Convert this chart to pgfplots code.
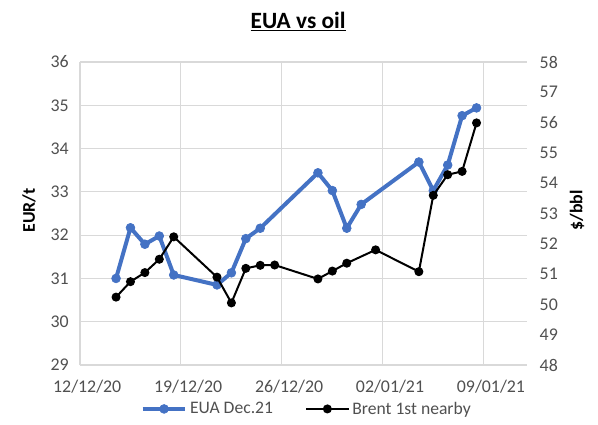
\documentclass[border=0pt]{standalone}
\usepackage{pgfplots}
\pgfplotsset{compat=1.18}
\usepackage{fontspec}
\setmainfont{Carlito}
\definecolor{euablue}{RGB}{68,114,196}
\definecolor{gridgray}{RGB}{217,217,217}
\definecolor{ticktxt}{RGB}{80,80,80}
\pgfplotstableread{
x y
2.5 31.00
3.5 32.17
4.5 31.79
5.5 31.98
6.5 31.08
9.5 30.85
10.5 31.13
11.5 31.92
12.5 32.16
16.5 33.44
17.5 33.03
18.5 32.16
19.5 32.71
23.5 33.69
24.5 33.03
25.5 33.62
26.5 34.76
27.5 34.94
}\euadata
\pgfplotstableread{
x y
2.5 50.24
3.5 50.75
4.5 51.05
5.5 51.49
6.5 52.23
9.5 50.90
10.5 50.05
11.5 51.19
12.5 51.29
13.5 51.30
16.5 50.84
17.5 51.10
18.5 51.36
20.5 51.80
23.5 51.08
24.5 53.60
25.5 54.28
26.5 54.39
27.5 55.99
}\brentdata
\begin{document}
\begin{tikzpicture}
\path[use as bounding box] (0pt,0pt) rectangle (448.5pt,318pt);
\pgfplotsset{
  common/.style={
    at={(60pt,44.25pt)}, anchor=south west,
    scale only axis, width=335.25pt, height=227.25pt,
    xmin=0, xmax=31,
    tick style={draw=none},
    major tick length=0pt,
    tick label style={font=\fontsize{13.4}{16}\selectfont, text=ticktxt},
    /pgf/number format/assume math mode=true,
    clip=false,
  },
  legend image code/.code={\draw[mark repeat=2,mark phase=2,#1] plot coordinates {(0pt,0pt) (16pt,0pt) (32pt,0pt)};},
}
\begin{axis}[
  common,
  ymin=29, ymax=36, ytick={29,...,36},
  xtick={0.5,7.5,14.5,21.5,28.5},
  xticklabels={12/12/20,19/12/20,26/12/20,02/01/21,09/01/21},
  minor xtick={0,7,14,21,28},
  xminorgrids, ymajorgrids,
  minor grid style={gridgray, line width=0.8pt},
  major grid style={gridgray, line width=0.8pt},
  axis line style={draw=none},
  yticklabel style={xshift=-5pt},
  xticklabel style={yshift=-8pt},
  ylabel={\textbf{EUR/t}},
  ylabel style={at={(axis description cs:-0.114,0.51)}, anchor=center, rotate=0, font=\fontsize{13.4}{16}\selectfont, text=black},
  title={\textbf{\underline{EUA vs oil}}},
  title style={at={(axis description cs:0.488,1.106)}, anchor=center, font=\fontsize{17.5}{20}\selectfont},
]
\addplot[euablue, line width=3pt, mark=*, mark size=3.3pt, mark options={fill=euablue, draw=euablue, line width=0.5pt}] table[x=x,y=y] {\euadata};
\end{axis}
\begin{axis}[
  common,
  ymin=48, ymax=58, ytick={48,...,58},
  axis y line*=right, axis x line=none,
  axis line style={draw=none},
  xtick=\empty,
  yticklabel style={xshift=6pt},
  ylabel={\textbf{\$/bbl}},
  ylabel style={at={(axis description cs:1.112,0.51)}, anchor=center, rotate=0, font=\fontsize{13.4}{16}\selectfont, text=black},
  legend style={at={(0.508,-0.145)}, anchor=center, draw=none, fill=none, legend columns=2,
    font=\fontsize{13.2}{16}\selectfont, text=ticktxt,
    /tikz/every even column/.append style={column sep=22pt},
    inner sep=0pt, nodes={inner sep=2pt}},
]
\addlegendimage{euablue, line width=3pt, mark=*, mark size=3.3pt, mark options={fill=euablue, draw=euablue, line width=0.5pt}}
\addlegendentry{EUA Dec.21}
\addplot[black, line width=1.5pt, mark=*, mark size=2.6pt, mark options={fill=black, draw=black}] table[x=x,y=y] {\brentdata};
\addlegendentry{Brent 1st nearby}
\end{axis}
\end{tikzpicture}
\end{document}
